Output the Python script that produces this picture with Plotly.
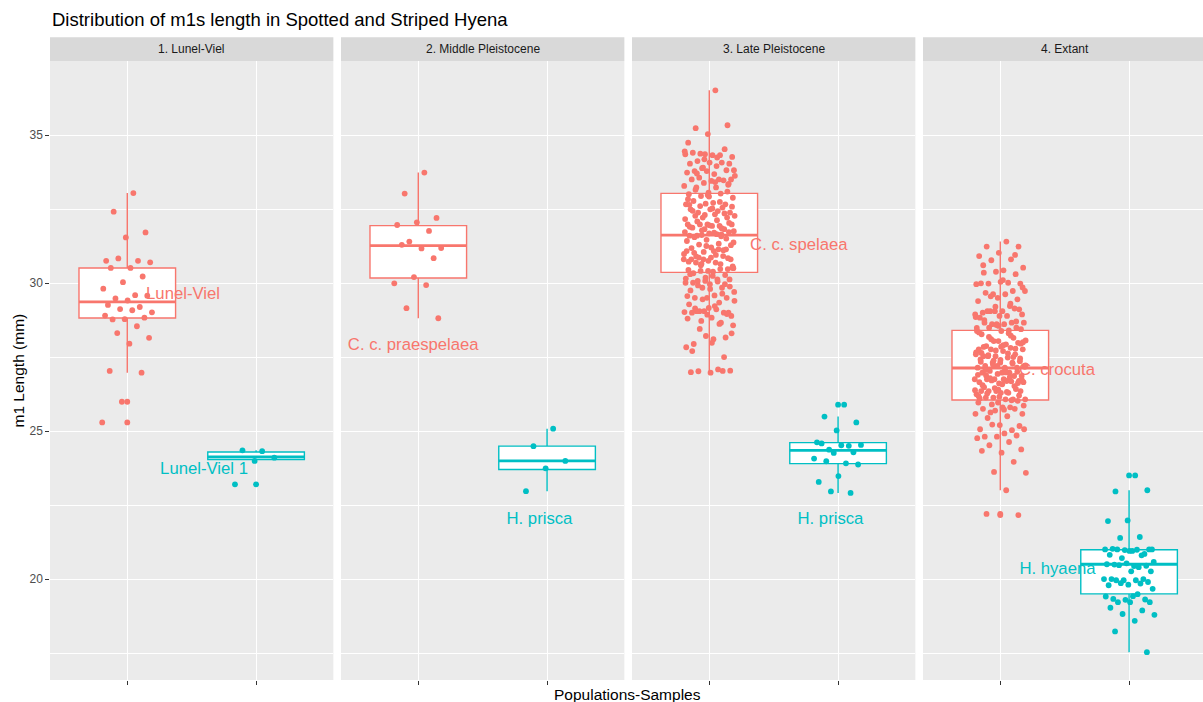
import numpy as np
import plotly.graph_objects as go

# ---------------------------------------------------------------- data
facet_titles = ["1. Lunel-Viel", "2. Middle Pleistocene", "3. Late Pleistocene", "4. Extant"]

# m1 lengths (mm), spotted (Crocuta) and striped (Hyaena) samples per period
lunel_spotted = [33.04, 32.41, 31.71, 31.54, 30.75, 30.75, 30.83, 30.70, 30.51, 30.51, 30.22, 30.03,
                 29.81, 29.59, 29.48, 29.57, 29.41, 29.26, 29.19, 29.12, 29.01, 29.08, 28.77, 28.83,
                 28.78, 28.90, 28.54, 28.31, 28.15, 27.95, 27.03, 26.97, 25.99, 25.29]
lunel_striped = [24.32, 24.35, 24.10, 23.99, 23.20]

mid_spotted = [33.73, 33.02, 32.20, 32.05, 31.96, 31.76, 31.40, 31.18, 31.17, 31.29, 30.84, 30.20,
               29.99, 29.93, 29.15, 28.81]
mid_striped = [25.08, 24.49, 23.99, 23.74, 22.97]

late_spotted = [36.51, 35.23, 35.33, 35.03, 34.74, 34.32, 34.37, 34.26, 34.32, 34.40, 34.52, 34.35,
                34.35, 34.24, 34.12, 34.03, 34.07, 34.03, 34.07, 33.88, 33.81, 33.68, 33.78, 33.81,
                33.78, 33.73, 33.50, 33.56, 33.50, 33.45, 33.50, 33.47, 33.38, 33.28, 33.23, 33.23,
                33.32, 33.05, 33.00, 33.02, 32.94, 32.88, 32.71, 32.77, 32.66, 32.68, 32.66, 32.43,
                32.38, 32.38, 32.49, 32.49, 32.55, 32.21, 32.27, 32.32, 32.27, 32.21, 31.98, 31.98,
                31.93, 31.98, 31.98, 31.93, 31.87, 31.82, 31.82, 31.72, 31.65, 31.60, 31.72, 31.68,
                31.60, 31.64, 31.62, 31.37, 31.08, 31.02, 31.14, 31.25, 31.08, 31.14, 30.86, 30.80,
                30.86, 30.80, 30.91, 30.80, 30.80, 30.69, 30.69, 30.47, 30.41, 30.44, 30.47, 30.41,
                30.52, 30.24, 30.01, 29.96, 30.07, 30.01, 30.12, 30.07, 30.12, 29.96, 30.30, 29.84,
                29.84, 29.70, 29.58, 29.50, 29.50, 29.50, 29.56, 29.34, 29.05, 28.89, 28.83, 29.00,
                29.00, 29.05, 29.02, 29.11, 29.05, 29.00, 29.16, 29.28, 28.66, 28.72, 28.57, 28.10,
                27.94, 28.16, 28.21, 27.83, 27.08, 27.02, 27.04, 26.97, 26.99, 27.03,
                33.90, 33.62, 33.41, 33.15, 33.09, 32.97, 32.83, 32.74, 32.60, 32.58, 32.52, 32.44,
                32.35, 32.30, 32.16, 32.12, 32.08, 32.03, 31.95, 31.90, 31.85, 31.78, 31.75, 31.70,
                31.55, 31.50, 31.46, 31.42, 31.33, 31.30, 31.28, 31.20, 31.18, 31.11, 31.05, 30.98,
                30.95, 30.90, 30.84, 30.75, 30.72, 30.64, 30.60, 30.56, 30.38, 30.33, 30.27, 30.18,
                30.15, 30.05, 29.92, 29.88, 29.80, 29.75, 29.64, 29.45, 29.40, 29.22, 29.14, 28.95,
                28.93, 28.80, 28.62, 28.45, 28.30, 27.98, 27.70, 27.50, 34.18, 34.45, 33.95, 33.70,
                33.35, 32.92, 32.64, 31.58, 30.65, 30.50]
late_striped = [25.89, 25.49, 25.29, 25.02, 24.62, 24.50, 24.37, 24.53, 24.52, 24.58, 24.28, 24.26,
                24.07, 23.91, 23.98, 23.87, 23.48, 23.28, 22.91, 22.96]

extant_spotted = [31.40, 31.23, 31.23, 31.02, 30.91, 30.80, 30.77, 30.52, 30.43, 30.35, 30.30, 30.38,
                  29.96, 30.01, 29.98, 29.98, 30.04, 29.99, 29.73, 29.62, 29.73, 29.62, 29.67, 29.45,
                  29.50, 29.39, 29.22, 29.05, 28.94, 29.05, 29.00, 29.14, 29.05, 28.94, 28.89, 29.05,
                  29.11, 28.89, 28.83, 28.66, 28.61, 28.66, 28.61, 28.66, 28.49, 28.61, 28.38, 28.40,
                  28.49, 28.44, 28.38, 28.27, 28.15, 28.04, 28.06, 27.93, 27.87, 27.98, 28.04, 27.76,
                  27.81, 27.76, 27.76, 27.70, 27.53, 27.59, 27.53, 27.59, 27.48, 27.53, 27.36, 27.31,
                  27.42, 27.31, 27.31, 27.20, 27.14, 27.20, 27.14, 27.20, 27.14, 26.97, 27.03, 26.86,
                  26.97, 26.97, 26.86, 26.75, 26.75, 26.69, 26.75, 26.69, 26.61, 26.65, 26.68, 26.71,
                  26.65, 26.75, 26.48, 26.42, 26.35, 26.24, 26.29, 26.35, 26.35, 26.29, 26.35, 26.07,
                  26.13, 26.07, 26.07, 26.13, 26.02, 25.96, 25.96, 25.80, 25.63, 25.58, 25.80, 25.75,
                  25.75, 25.69, 25.58, 25.50, 25.44, 25.17, 25.20, 25.06, 25.03, 25.22, 25.06, 24.92,
                  24.81, 24.85, 24.81, 24.76, 24.63, 24.52, 24.38, 24.27, 24.33, 23.96, 23.62, 23.59,
                  23.00, 22.20, 22.16,
                  28.55, 28.33, 28.22, 28.10, 28.00, 27.90, 27.84, 27.78, 27.72, 27.66, 27.62, 27.56,
                  27.45, 27.40, 27.34, 27.28, 27.25, 27.17, 27.10, 27.06, 27.00, 26.93, 26.90, 26.82,
                  26.79, 26.72, 26.58, 26.55, 26.52, 26.45, 26.38, 26.32, 26.27, 26.20, 26.16, 26.10,
                  26.04, 25.90, 25.86, 25.72, 28.75, 28.70, 28.58, 28.48, 28.30, 28.18, 27.95, 27.85,
                  27.64, 27.50, 27.38, 27.22, 26.98, 26.88, 26.62, 26.40, 26.18, 29.30, 29.55, 29.85,
                  30.10, 30.60, 30.95, 29.20, 28.85]
extant_striped = [23.50, 22.96, 23.00, 21.98, 21.96, 21.42, 21.39, 21.00, 20.95, 21.02, 20.85, 20.98,
                  21.00, 20.99, 21.00, 21.00, 20.95, 20.82, 20.80, 20.71, 20.58, 20.44, 20.49, 20.45,
                  20.53, 20.50, 20.40, 20.47, 20.26, 20.26, 20.00, 20.00, 19.96, 20.00, 19.96, 19.96,
                  19.90, 19.81, 19.79, 19.85, 19.86, 19.67, 19.42, 19.33, 19.31, 19.30, 19.41, 19.49,
                  19.22, 19.22, 19.22, 19.03, 18.94, 18.82, 18.79, 18.59, 18.23, 17.53]

# box statistics, in order: (facet 1 spotted, facet 1 striped, facet 2 spotted, ...)
box_q1 = [28.82, 24.04, 30.17, 23.70, 30.36, 23.90, 26.05, 19.50]
box_median = [29.36, 24.13, 31.26, 23.99, 31.62, 24.35, 27.13, 20.50]
box_q3 = [30.51, 24.29, 31.94, 24.49, 33.03, 24.61, 28.40, 20.99]
box_lower = [26.97, 23.99, 28.81, 22.97, 26.97, 22.91, 23.00, 17.53]
box_upper = [33.04, 24.35, 33.73, 25.08, 36.51, 25.49, 31.40, 23.00]

# population labels (one per box)
label_text = ["Lunel-Viel", "Lunel-Viel 1", "C. c. praespelaea", "H. prisca",
              "C. c. spelaea", "H. prisca", "C. crocuta", "H. hyaena"]
label_x = [1.433, 1.596, 0.961, 1.941, 1.695, 1.941, 1.440, 1.444]
label_y = [29.60, 23.68, 27.89, 21.99, 31.27, 21.99, 27.04, 20.30]

groups = [lunel_spotted, lunel_striped, mid_spotted, mid_striped,
          late_spotted, late_striped, extant_spotted, extant_striped]

# ---------------------------------------------------------------- style
FONT = "Liberation Sans, Arial, sans-serif"
COLORS = ["#F8766D", "#00BFC4"]
W, H = 1203, 702
PX_PER_UNIT = 128.8
PANEL_LEFT = [50, 341, 632, 923]
PANEL_W = 2.2 * PX_PER_UNIT
TOP_PX, BOTTOM_PX, STRIP_TOP_PX = 61, 680, 37.3
Y_RANGE = [16.59, 37.50]
BOX_W = 0.75
JITTER = 0.2

ydom = [1 - BOTTOM_PX / H, 1 - TOP_PX / H]

fig = go.Figure()

def axis_names(p):
    s = "" if p == 0 else str(p + 1)
    return "x" + s, "y" + s


def jitter_offsets(n):
    # evenly spread horizontal offsets (golden-ratio sequence) for the point cloud
    k = np.arange(1, n + 1)
    return ((k * 0.6180339887) % 1.0 - 0.5) * 2 * JITTER


# boxes
for g in range(8):
    p, c = divmod(g, 2)
    xa, ya = axis_names(p)
    fig.add_trace(go.Box(
        x=[c + 1], q1=[box_q1[g]], median=[box_median[g]], q3=[box_q3[g]],
        lowerfence=[box_lower[g]], upperfence=[box_upper[g]],
        width=BOX_W, whiskerwidth=0, boxpoints=False,
        fillcolor="white", line=dict(color=COLORS[c], width=1.4),
        xaxis=xa, yaxis=ya, showlegend=False, hoverinfo="skip"))

# thicker median bars, outliers, labels
for g in range(8):
    p, c = divmod(g, 2)
    xa, ya = axis_names(p)
    xc = c + 1
    fig.add_trace(go.Scatter(
        x=[xc - BOX_W / 2, xc + BOX_W / 2], y=[box_median[g]] * 2, mode="lines",
        line=dict(color=COLORS[c], width=2.8), xaxis=xa, yaxis=ya,
        showlegend=False, hoverinfo="skip"))
    vals = np.array(groups[g])
    out = vals[(vals < box_lower[g]) | (vals > box_upper[g])]
    if len(out):
        fig.add_trace(go.Scatter(
            x=[xc] * len(out), y=out, mode="markers",
            marker=dict(color=COLORS[c], size=5.8), xaxis=xa, yaxis=ya,
            showlegend=False, hoverinfo="skip"))

for g in range(8):
    p, c = divmod(g, 2)
    xa, ya = axis_names(p)
    fig.add_trace(go.Scatter(
        x=[label_x[g]], y=[label_y[g]], mode="text", text=[label_text[g]],
        textposition="middle center",
        textfont=dict(family=FONT, size=16.7, color=COLORS[c]),
        xaxis=xa, yaxis=ya, showlegend=False, hoverinfo="skip"))

# jittered sample points
for g in range(8):
    p, c = divmod(g, 2)
    xa, ya = axis_names(p)
    vals = np.array(groups[g])
    fig.add_trace(go.Scatter(
        x=(c + 1) + jitter_offsets(len(vals)), y=vals, mode="markers",
        marker=dict(color=COLORS[c], size=5.8, line=dict(width=0)),
        xaxis=xa, yaxis=ya, showlegend=False, hoverinfo="y"))

# ---------------------------------------------------------------- axes / facets
layout = dict(
    width=W, height=H, margin=dict(l=0, r=0, t=0, b=0),
    paper_bgcolor="white", plot_bgcolor="#EBEBEB",
    font=dict(family=FONT, color="#1A1A1A"),
    showlegend=False, shapes=[], annotations=[],
)

for p in range(4):
    s = "" if p == 0 else str(p + 1)
    left = PANEL_LEFT[p]
    right = min(left + PANEL_W, W)
    xmax = 0.4 + (right - left) / PX_PER_UNIT
    layout["xaxis" + s] = dict(
        domain=[left / W, right / W], range=[0.4, xmax], anchor="y" + s,
        tickvals=[1, 2], showticklabels=False, ticks="outside", ticklen=3.7,
        tickwidth=1.4, tickcolor="#333333", showgrid=True, gridcolor="white",
        gridwidth=1.4, zeroline=False, showline=False, fixedrange=True)
    yax = dict(
        domain=ydom, range=Y_RANGE, anchor="x" + s, tickvals=[20, 25, 30, 35],
        showgrid=True, gridcolor="white", gridwidth=1.4, zeroline=False,
        showline=False, fixedrange=True,
        minor=dict(tickvals=[17.5, 22.5, 27.5, 32.5], showgrid=True,
                   gridcolor="white", gridwidth=0.7))
    if p == 0:
        yax.update(ticks="outside", ticklen=3.7, tickwidth=1.4, tickcolor="#333333",
                   tickfont=dict(family=FONT, size=12, color="#4D4D4D"))
    else:
        yax.update(showticklabels=False, ticks="", matches="y")
    layout["yaxis" + s] = yax

    # facet strip
    layout["shapes"].append(dict(
        type="rect", xref="paper", yref="paper", x0=left / W, x1=right / W,
        y0=1 - TOP_PX / H, y1=1 - STRIP_TOP_PX / H, fillcolor="#D9D9D9",
        line=dict(width=0), layer="below"))
    layout["annotations"].append(dict(
        text=facet_titles[p], xref="paper", yref="paper",
        x=(left + PANEL_W / 2) / W, y=1 - (TOP_PX + STRIP_TOP_PX) / 2 / H,
        xanchor="center", yanchor="middle", showarrow=False,
        font=dict(family=FONT, size=12, color="#1A1A1A")))

layout["annotations"] += [
    dict(text="Distribution of m1s length in Spotted and Striped Hyena",
         xref="paper", yref="paper", x=50 / W, y=1 - 20 / H, xanchor="left",
         yanchor="middle", showarrow=False,
         font=dict(family=FONT, size=18.5, color="black")),
    dict(text="Populations-Samples", xref="paper", yref="paper", x=627 / W,
         y=1 - 694 / H, xanchor="center", yanchor="middle", showarrow=False,
         font=dict(family=FONT, size=15.5, color="black")),
    dict(text="m1 Length (mm)", xref="paper", yref="paper", x=18 / W,
         y=1 - (TOP_PX + BOTTOM_PX) / 2 / H, xanchor="center", yanchor="middle",
         textangle=-90, showarrow=False,
         font=dict(family=FONT, size=15.5, color="black")),
]

fig.update_layout(**layout)
fig.write_html("out.html")
